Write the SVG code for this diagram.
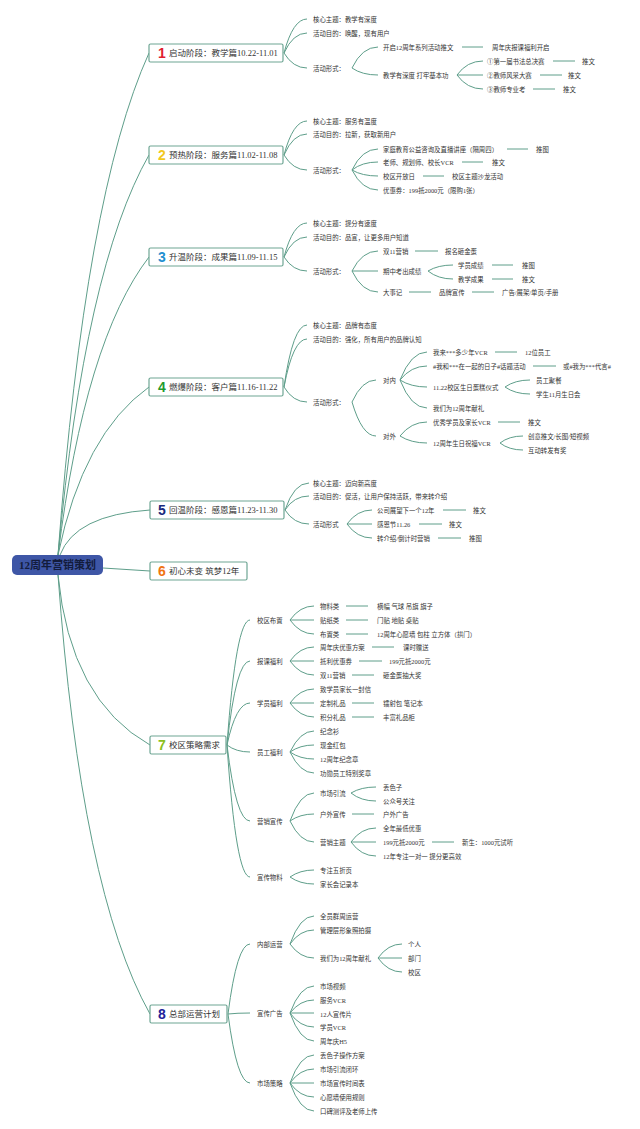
<svg xmlns="http://www.w3.org/2000/svg" width="640" height="1129" viewBox="0 0 640 1129">
<style>
text{font-family:"Liberation Serif","Noto Sans CJK SC",serif;dominant-baseline:central;fill:#333}
.t{font-size:6.4px}
.lbl{font-size:8.5px;fill:#333}
.num{font-family:"Liberation Sans","Noto Sans",sans-serif;font-size:14px;font-weight:bold}
.box{fill:#fff;stroke:#6ea694;stroke-width:1.2}
.c path{fill:none;stroke:#5e9e8a;stroke-width:1}
.root{fill:#3e56a6}
.rt{font-size:11px;font-weight:bold;fill:#131c3c;text-anchor:middle}
</style>
<rect width="640" height="1129" fill="#fff"/>
<g class="c" id="connectors">
<path d="M58,555 Q85,194 149,53"/>
<path d="M58,555 Q85,267 149,155"/>
<path d="M58,555 Q85,340 149,257"/>
<path d="M58,555 Q83,434 149,387"/>
<path d="M60,555 Q75,515 150,510"/>
<path d="M103,568 L150,571"/>
<path d="M58,575 Q70,700 150,745"/>
<path d="M58,575 Q81,891 150,1014"/>
<!-- stage 1 -->
<path d="M284,53 Q293,19 307,19"/><path d="M284,53 Q293,33 307,33"/><path d="M284,53 Q293,68 307,68"/>
<path d="M352,68 Q362,47 378,47"/><path d="M352,68 Q362,75 378,75"/>
<path d="M462,47 H483"/>
<path d="M457,75 Q467,61 483,61"/><path d="M457,75 H483"/><path d="M457,75 Q467,89 483,89"/>
<path d="M553,61 H575"/><path d="M540,75 H562"/><path d="M533,89 H555"/>
<!-- stage 2 -->
<path d="M284,155 Q293,121 307,121"/><path d="M284,155 Q293,134 307,134"/><path d="M284,155 Q293,170 307,170"/>
<path d="M352,170 Q362,149 378,149"/><path d="M352,170 Q362,162 378,162"/><path d="M352,170 Q362,176 378,176"/><path d="M352,170 Q362,190 378,190"/>
<path d="M507,149 H528"/><path d="M462,162 H483"/><path d="M423,176 H444"/>
<!-- stage 3 -->
<path d="M284,257 Q293,223 307,223"/><path d="M284,257 Q293,237 307,237"/><path d="M284,257 Q293,271 307,271"/>
<path d="M352,271 Q362,251 378,251"/><path d="M352,271 H378"/><path d="M352,271 Q362,292 378,292"/>
<path d="M415,251 H438"/>
<path d="M428,271 Q438,265 453,265"/><path d="M428,271 Q438,279 453,279"/>
<path d="M492,265 H513"/><path d="M492,279 H513"/>
<path d="M409,292 H431"/><path d="M472,292 H494"/>
<!-- stage 4 -->
<path d="M284,387 Q293,325 307,325"/><path d="M284,387 Q293,339 307,339"/><path d="M284,387 Q293,402 307,402"/>
<path d="M352,402 Q362,380 376,380"/><path d="M352,402 Q362,436 376,436"/>
<path d="M400,380 Q411,352 427,352"/><path d="M400,380 Q411,366 427,366"/><path d="M400,380 Q411,387 427,387"/><path d="M400,380 Q411,408 427,408"/>
<path d="M495,352 H517"/><path d="M533,366 H556"/>
<path d="M505,387 Q515,380 530,380"/><path d="M505,387 Q515,394 530,394"/>
<path d="M400,436 Q411,422 427,422"/><path d="M400,436 Q411,443 427,443"/>
<path d="M498,422 H520"/>
<path d="M500,443 Q509,436 523,436"/><path d="M500,443 Q509,450 523,450"/>
<!-- stage 5 -->
<path d="M285,510 Q294,483 309,483"/><path d="M285,510 Q294,496 309,496"/><path d="M285,510 Q294,524 309,524"/>
<path d="M347,524 Q357,510 372,510"/><path d="M347,524 H372"/><path d="M347,524 Q357,538 372,538"/>
<path d="M443,510 H466"/><path d="M419,524 H442"/><path d="M438,538 H461"/>
<!-- stage 7 -->
<path d="M227,745 Q236,620 250,620"/><path d="M227,745 Q236,661 250,661"/><path d="M227,745 Q236,703 250,703"/>
<path d="M227,745 Q236,752 250,752"/><path d="M227,745 Q236,821 250,821"/><path d="M227,745 Q236,877 250,877"/>
<path d="M290,620 Q300,606 314,606"/><path d="M290,620 H314"/><path d="M290,620 Q300,634 314,634"/>
<path d="M346,606 H368"/><path d="M346,620 H368"/><path d="M346,634 H368"/>
<path d="M290,661 Q300,647 314,647"/><path d="M290,661 H314"/><path d="M290,661 Q300,675 314,675"/>
<path d="M372,647 H394"/><path d="M359,661 H382"/><path d="M352,675 H374"/>
<path d="M290,703 Q300,689 314,689"/><path d="M290,703 H314"/><path d="M290,703 Q300,717 314,717"/>
<path d="M352,703 H374"/><path d="M352,717 H374"/>
<path d="M290,752 Q300,731 314,731"/><path d="M290,752 Q300,745 314,745"/><path d="M290,752 Q300,759 314,759"/><path d="M290,752 Q300,773 314,773"/>
<path d="M290,821 Q300,793 314,793"/><path d="M290,821 Q300,814 314,814"/><path d="M290,821 Q300,842 314,842"/>
<path d="M351,793 Q361,787 376,787"/><path d="M351,793 Q361,801 376,801"/>
<path d="M352,814 H374"/>
<path d="M351,842 Q361,828 376,828"/><path d="M351,842 H376"/><path d="M351,842 Q361,856 376,856"/>
<path d="M432,842 H454"/>
<path d="M290,877 Q300,870 314,870"/><path d="M290,877 Q300,884 314,884"/>
<!-- stage 8 -->
<path d="M228,1014 Q237,944 250,944"/><path d="M228,1014 Q237,1013 250,1013"/><path d="M228,1014 Q237,1083 250,1083"/>
<path d="M290,944 Q300,916 314,916"/><path d="M290,944 Q300,930 314,930"/><path d="M290,944 Q300,958 314,958"/>
<path d="M378,958 Q388,944 402,944"/><path d="M378,958 H402"/><path d="M378,958 Q388,972 402,972"/>
<path d="M290,1013 Q300,986 314,986"/><path d="M290,1013 Q300,1000 314,1000"/><path d="M290,1013 H314"/><path d="M290,1013 Q300,1027 314,1027"/><path d="M290,1013 Q300,1041 314,1041"/>
<path d="M290,1083 Q300,1055 314,1055"/><path d="M290,1083 Q300,1069 314,1069"/><path d="M290,1083 H314"/><path d="M290,1083 Q300,1097 314,1097"/><path d="M290,1083 Q300,1111 314,1111"/>
</g>

<g id="root"><rect class="root" x="12" y="555" width="91" height="20" rx="5"/><text class="rt" x="57.5" y="565">12周年营销策划</text></g>

<g id="s1"><rect class="box" x="149" y="44" width="134" height="18" rx="1.5"/><text class="num" x="158" y="53" style="fill:#e0202e">1</text><text class="lbl" x="169" y="53">启动阶段：教学篇10.22-11.01</text></g>
<g id="s2"><rect class="box" x="149" y="146" width="134" height="18" rx="1.5"/><text class="num" x="158" y="155" style="fill:#f2c81e">2</text><text class="lbl" x="169" y="155">预热阶段：服务篇11.02-11.08</text></g>
<g id="s3"><rect class="box" x="149" y="248" width="134" height="18" rx="1.5"/><text class="num" x="158" y="257" style="fill:#1f8fd0">3</text><text class="lbl" x="169" y="257">升温阶段：成果篇11.09-11.15</text></g>
<g id="s4"><rect class="box" x="149" y="378" width="134" height="18" rx="1.5"/><text class="num" x="158" y="387" style="fill:#1f9a2e">4</text><text class="lbl" x="169" y="387">燃爆阶段：客户篇11.16-11.22</text></g>
<g id="s5"><rect class="box" x="150" y="501" width="134" height="18" rx="1.5"/><text class="num" x="158" y="510" style="fill:#1a2a7e">5</text><text class="lbl" x="169" y="510">回温阶段：感恩篇11.23-11.30</text></g>
<g id="s6"><rect class="box" x="150" y="562" width="97" height="18" rx="1.5"/><text class="num" x="158" y="571" style="fill:#f07412">6</text><text class="lbl" x="169" y="571">初心未变 筑梦12年</text></g>
<g id="s7"><rect class="box" x="150" y="736" width="76" height="18" rx="1.5"/><text class="num" x="158" y="745" style="fill:#8cbf1e">7</text><text class="lbl" x="169" y="745">校区策略需求</text></g>
<g id="s8"><rect class="box" x="150" y="1005" width="77" height="18" rx="1.5"/><text class="num" x="158" y="1014" style="fill:#22229a">8</text><text class="lbl" x="169" y="1014">总部运营计划</text></g>

<g id="s1-nodes" class="t">
<g id="n1a"><text class="t" x="313" y="19">核心主题：教学有深度</text></g>
<g id="n1b"><text class="t" x="313" y="33">活动目的：唤醒，现有用户</text></g>
<g id="n1c"><text class="t" x="313" y="68">活动形式：</text></g>
<g id="n1c1"><text class="t" x="383" y="47">开启12周年系列活动推文</text></g>
<g id="n1c1a"><text class="t" x="492" y="47">周年庆报课福利开启</text></g>
<g id="n1c2"><text class="t" x="383" y="75">教学有深度 打牢基本功</text></g>
<g id="n1c2a"><text class="t" x="487" y="61">①第一届书法总决赛</text></g>
<g id="n1c2a1"><text class="t" x="582" y="61">推文</text></g>
<g id="n1c2b"><text class="t" x="487" y="75">②教师风采大赛</text></g>
<g id="n1c2b1"><text class="t" x="568" y="75">推文</text></g>
<g id="n1c2c"><text class="t" x="487" y="89">③教师专业考</text></g>
<g id="n1c2c1"><text class="t" x="563" y="89">推文</text></g>
</g>

<g id="s2-nodes">
<g id="n2a"><text class="t" x="313" y="121">核心主题：服务有温度</text></g>
<g id="n2b"><text class="t" x="313" y="134">活动目的：拉新，获取新用户</text></g>
<g id="n2c"><text class="t" x="313" y="170">活动形式：</text></g>
<g id="n2c1"><text class="t" x="383" y="149">家庭教育公益咨询及直播讲座（隔周四）</text></g>
<g id="n2c1a"><text class="t" x="536" y="149">推图</text></g>
<g id="n2c2"><text class="t" x="383" y="162">老师、规划师、校长VCR</text></g>
<g id="n2c2a"><text class="t" x="492" y="162">推文</text></g>
<g id="n2c3"><text class="t" x="383" y="176">校区开放日</text></g>
<g id="n2c3a"><text class="t" x="452" y="176">校区主题沙龙活动</text></g>
<g id="n2c4"><text class="t" x="383" y="190">优惠券：199抵2000元（限购1张）</text></g>
</g>

<g id="s3-nodes">
<g id="n3a"><text class="t" x="313" y="223">核心主题：提分有速度</text></g>
<g id="n3b"><text class="t" x="313" y="237">活动目的：品宣，让更多用户知道</text></g>
<g id="n3c"><text class="t" x="313" y="271">活动形式：</text></g>
<g id="n3c1"><text class="t" x="383" y="251">双11营销</text></g>
<g id="n3c1a"><text class="t" x="445" y="251">报名砸金蛋</text></g>
<g id="n3c2"><text class="t" x="383" y="271">期中考出成绩</text></g>
<g id="n3c2a"><text class="t" x="458" y="265">学员成绩</text></g>
<g id="n3c2a1"><text class="t" x="522" y="265">推图</text></g>
<g id="n3c2b"><text class="t" x="458" y="279">教学成果</text></g>
<g id="n3c2b1"><text class="t" x="522" y="279">推文</text></g>
<g id="n3c3"><text class="t" x="383" y="292">大事记</text></g>
<g id="n3c3a"><text class="t" x="439" y="292">品牌宣传</text></g>
<g id="n3c3a1"><text class="t" x="502" y="292">广告/展架/单页/手册</text></g>
</g>

<g id="s4-nodes">
<g id="n4a"><text class="t" x="313" y="325">核心主题：品牌有态度</text></g>
<g id="n4b"><text class="t" x="313" y="339">活动目的：强化，所有用户的品牌认知</text></g>
<g id="n4c"><text class="t" x="313" y="402">活动形式：</text></g>
<g id="n4c1"><text class="t" x="383" y="380">对内</text></g>
<g id="n4c1a"><text class="t" x="433" y="352">我来***多少年VCR</text></g>
<g id="n4c1a1"><text class="t" x="525" y="352">12位员工</text></g>
<g id="n4c1b"><text class="t" x="433" y="366">#我和***在一起的日子#话题活动</text></g>
<g id="n4c1b1"><text class="t" x="563" y="366">或#我为***代言#</text></g>
<g id="n4c1c"><text class="t" x="433" y="387">11.22校区生日蛋糕仪式</text></g>
<g id="n4c1c1"><text class="t" x="536" y="380">员工聚餐</text></g>
<g id="n4c1c2"><text class="t" x="536" y="394">学生11月生日会</text></g>
<g id="n4c1d"><text class="t" x="433" y="408">我们为12周年献礼</text></g>
<g id="n4c2"><text class="t" x="383" y="436">对外</text></g>
<g id="n4c2a"><text class="t" x="433" y="422">优秀学员及家长VCR</text></g>
<g id="n4c2a1"><text class="t" x="528" y="422">推文</text></g>
<g id="n4c2b"><text class="t" x="433" y="443">12周年生日祝福VCR</text></g>
<g id="n4c2b1"><text class="t" x="528" y="436">创意推文/长图/短视频</text></g>
<g id="n4c2b2"><text class="t" x="528" y="450">互动转发有奖</text></g>
</g>

<g id="s5-nodes">
<g id="n5a"><text class="t" x="313" y="483">核心主题：迈向新高度</text></g>
<g id="n5b"><text class="t" x="313" y="496">活动目的：促活，让用户保持活跃，带来转介绍</text></g>
<g id="n5c"><text class="t" x="313" y="524">活动形式</text></g>
<g id="n5c1"><text class="t" x="377" y="510">公司展望下一个12年</text></g>
<g id="n5c1a"><text class="t" x="473" y="510">推文</text></g>
<g id="n5c2"><text class="t" x="377" y="524">感恩节11.26</text></g>
<g id="n5c2a"><text class="t" x="449" y="524">推文</text></g>
<g id="n5c3"><text class="t" x="377" y="538">转介绍/倒计时营销</text></g>
<g id="n5c3a"><text class="t" x="469" y="538">推图</text></g>
</g>

<g id="s7-nodes">
<g id="n7a"><text class="t" x="257" y="620">校区布置</text></g>
<g id="n7a1"><text class="t" x="320" y="606">物料类</text></g>
<g id="n7a1a"><text class="t" x="377" y="606">横幅 气球 吊旗 旗子</text></g>
<g id="n7a2"><text class="t" x="320" y="620">贴纸类</text></g>
<g id="n7a2a"><text class="t" x="377" y="620">门贴 地贴 桌贴</text></g>
<g id="n7a3"><text class="t" x="320" y="634">布置类</text></g>
<g id="n7a3a"><text class="t" x="377" y="634">12周年心愿墙 包柱 立方体（拱门）</text></g>
<g id="n7b"><text class="t" x="257" y="661">报课福利</text></g>
<g id="n7b1"><text class="t" x="320" y="647">周年庆优惠方案</text></g>
<g id="n7b1a"><text class="t" x="403" y="647">课时赠送</text></g>
<g id="n7b2"><text class="t" x="320" y="661">抵利优惠券</text></g>
<g id="n7b2a"><text class="t" x="389" y="661">199元抵2000元</text></g>
<g id="n7b3"><text class="t" x="320" y="675">双11营销</text></g>
<g id="n7b3a"><text class="t" x="383" y="675">砸金蛋抽大奖</text></g>
<g id="n7c"><text class="t" x="257" y="703">学员福利</text></g>
<g id="n7c1"><text class="t" x="320" y="689">致学员家长一封信</text></g>
<g id="n7c2"><text class="t" x="320" y="703">定制礼品</text></g>
<g id="n7c2a"><text class="t" x="383" y="703">镭射包 笔记本</text></g>
<g id="n7c3"><text class="t" x="320" y="717">积分礼品</text></g>
<g id="n7c3a"><text class="t" x="383" y="717">丰富礼品柜</text></g>
<g id="n7d"><text class="t" x="257" y="752">员工福利</text></g>
<g id="n7d1"><text class="t" x="320" y="731">纪念衫</text></g>
<g id="n7d2"><text class="t" x="320" y="745">现金红包</text></g>
<g id="n7d3"><text class="t" x="320" y="759">12周年纪念章</text></g>
<g id="n7d4"><text class="t" x="320" y="773">功勋员工特别奖章</text></g>
<g id="n7e"><text class="t" x="257" y="821">营销宣传</text></g>
<g id="n7e1"><text class="t" x="320" y="793">市场引流</text></g>
<g id="n7e1a"><text class="t" x="383" y="787">丢色子</text></g>
<g id="n7e1b"><text class="t" x="383" y="801">公众号关注</text></g>
<g id="n7e2"><text class="t" x="320" y="814">户外宣传</text></g>
<g id="n7e2a"><text class="t" x="383" y="814">户外广告</text></g>
<g id="n7e3"><text class="t" x="320" y="842">营销主题</text></g>
<g id="n7e3a"><text class="t" x="383" y="828">全年最低优惠</text></g>
<g id="n7e3b"><text class="t" x="383" y="842">199元抵2000元</text></g>
<g id="n7e3b1"><text class="t" x="462" y="842">新生：1000元试听</text></g>
<g id="n7e3c"><text class="t" x="383" y="856">12年专注一对一 提分更高效</text></g>
<g id="n7f"><text class="t" x="257" y="877">宣传物料</text></g>
<g id="n7f1"><text class="t" x="320" y="870">专注五折页</text></g>
<g id="n7f2"><text class="t" x="320" y="884">家长会记录本</text></g>
</g>

<g id="s8-nodes">
<g id="n8a"><text class="t" x="257" y="944">内部运营</text></g>
<g id="n8a1"><text class="t" x="320" y="916">全员群周运营</text></g>
<g id="n8a2"><text class="t" x="320" y="930">管理层形象照拍摄</text></g>
<g id="n8a3"><text class="t" x="320" y="958">我们为12周年献礼</text></g>
<g id="n8a3a"><text class="t" x="408" y="944">个人</text></g>
<g id="n8a3b"><text class="t" x="408" y="958">部门</text></g>
<g id="n8a3c"><text class="t" x="408" y="972">校区</text></g>
<g id="n8b"><text class="t" x="257" y="1013">宣传广告</text></g>
<g id="n8b1"><text class="t" x="320" y="986">市场视频</text></g>
<g id="n8b2"><text class="t" x="320" y="1000">服务VCR</text></g>
<g id="n8b3"><text class="t" x="320" y="1014">12人宣传片</text></g>
<g id="n8b4"><text class="t" x="320" y="1027">学员VCR</text></g>
<g id="n8b5"><text class="t" x="320" y="1041">周年庆H5</text></g>
<g id="n8c"><text class="t" x="257" y="1083">市场策略</text></g>
<g id="n8c1"><text class="t" x="320" y="1055">丢色子操作方案</text></g>
<g id="n8c2"><text class="t" x="320" y="1069">市场引流闭环</text></g>
<g id="n8c3"><text class="t" x="320" y="1083">市场宣传时间表</text></g>
<g id="n8c4"><text class="t" x="320" y="1097">心愿墙使用规则</text></g>
<g id="n8c5"><text class="t" x="320" y="1111">口碑测评及老师上传</text></g>
</g>
</svg>
